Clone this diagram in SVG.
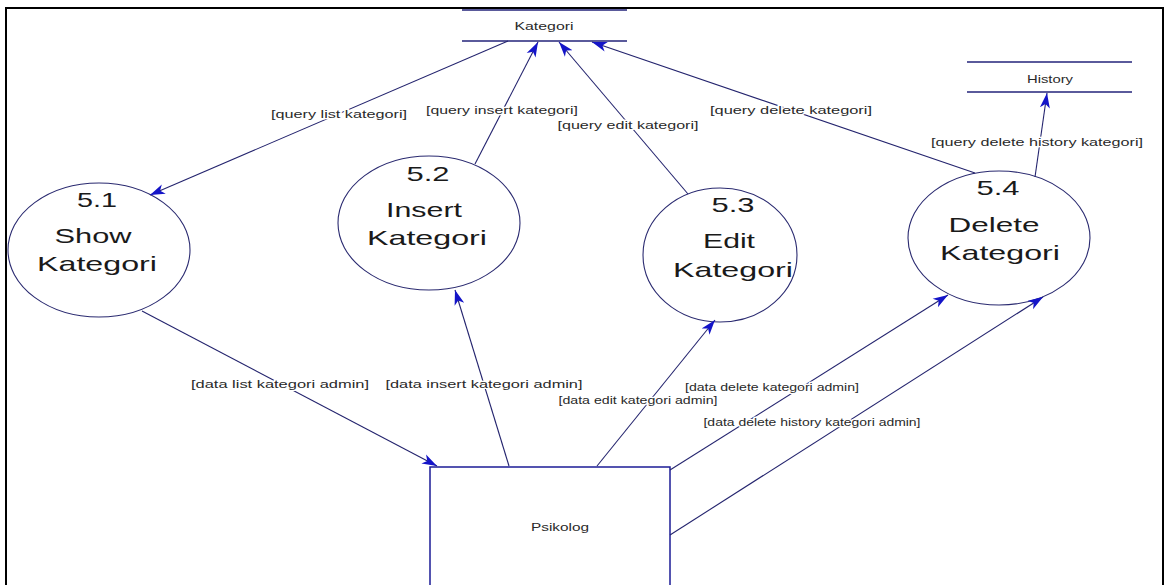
<svg xmlns="http://www.w3.org/2000/svg" width="1165" height="585" viewBox="0 0 1165 585">
  <style>
    .frame { fill: none; stroke: #000; stroke-width: 2; }
    .store { stroke: #23237a; stroke-width: 1.5; }
    .proc { fill: #fff; stroke: #2a2a70; stroke-width: 1.1; }
    .ent { fill: #fff; stroke: #1c1c96; stroke-width: 1.5; }
    .flow { fill: none; stroke: #24246e; stroke-width: 1.1; marker-end: url(#arr); }
    .big { font-family: "Liberation Sans", Arial, sans-serif; font-size: 21px; fill: #1a1a1a; text-anchor: middle; }
    .small { font-family: "Liberation Sans", Arial, sans-serif; font-size: 11px; fill: #2a2a2a; text-anchor: middle; }
    .lbl { font-family: "Liberation Sans", Arial, sans-serif; font-size: 11px; fill: #2a2a2a; text-anchor: middle; paint-order: stroke; stroke: #fff; stroke-width: 2.5; }
  </style>
  <defs>
    <marker id="arr" markerUnits="userSpaceOnUse" markerWidth="16" markerHeight="11" viewBox="0 0 16 11" refX="15" refY="5.5" orient="auto">
      <path d="M0,0.5 L15,5.5 L0,10.5 L4,5.5 z" fill="#1414c8"/>
    </marker>
  </defs>

  <rect width="1165" height="585" fill="#fff"/>
  <rect class="frame" x="6" y="8" width="1157" height="590"/>

  <!-- data stores -->
  <g id="store-kategori">
    <line class="store" x1="462" y1="10" x2="627" y2="10"/>
    <line class="store" x1="462" y1="41" x2="627" y2="41"/>
    <text class="small" x="544" y="30" textLength="59" lengthAdjust="spacingAndGlyphs">Kategori</text>
  </g>
  <g id="store-history">
    <line class="store" x1="967" y1="62" x2="1132" y2="62"/>
    <line class="store" x1="967" y1="92" x2="1132" y2="92"/>
    <text class="small" x="1050" y="83" textLength="46" lengthAdjust="spacingAndGlyphs">History</text>
  </g>

  <!-- processes -->
  <g id="proc-5-1">
    <ellipse class="proc" cx="99" cy="250" rx="91" ry="67"/>
    <text class="big" x="97" y="207" textLength="40" lengthAdjust="spacingAndGlyphs">5.1</text>
    <text class="big" x="93" y="243" textLength="77" lengthAdjust="spacingAndGlyphs">Show</text>
    <text class="big" x="97" y="271" textLength="120" lengthAdjust="spacingAndGlyphs">Kategori</text>
  </g>
  <g id="proc-5-2">
    <ellipse class="proc" cx="429" cy="223" rx="91" ry="67"/>
    <text class="big" x="428" y="181" textLength="43" lengthAdjust="spacingAndGlyphs">5.2</text>
    <text class="big" x="424" y="217" textLength="76" lengthAdjust="spacingAndGlyphs">Insert</text>
    <text class="big" x="427" y="245" textLength="120" lengthAdjust="spacingAndGlyphs">Kategori</text>
  </g>
  <g id="proc-5-3">
    <ellipse class="proc" cx="720" cy="255" rx="77" ry="67"/>
    <text class="big" x="733" y="212" textLength="43" lengthAdjust="spacingAndGlyphs">5.3</text>
    <text class="big" x="729" y="248" textLength="52" lengthAdjust="spacingAndGlyphs">Edit</text>
    <text class="big" x="733" y="277" textLength="120" lengthAdjust="spacingAndGlyphs">Kategori</text>
  </g>
  <g id="proc-5-4">
    <ellipse class="proc" cx="999" cy="238" rx="91" ry="67"/>
    <text class="big" x="998" y="195" textLength="43" lengthAdjust="spacingAndGlyphs">5.4</text>
    <text class="big" x="994" y="232" textLength="91" lengthAdjust="spacingAndGlyphs">Delete</text>
    <text class="big" x="1000" y="260" textLength="120" lengthAdjust="spacingAndGlyphs">Kategori</text>
  </g>

  <!-- external entity -->
  <g id="ent-psikolog">
    <rect class="ent" x="430" y="467" width="240" height="130"/>
    <text class="small" x="560" y="531" textLength="58" lengthAdjust="spacingAndGlyphs">Psikolog</text>
  </g>

  <!-- data flows -->
  <g id="flows">
    <path class="flow" d="M508,41 L150,195"/>
    <path class="flow" d="M475,164 L538,42"/>
    <path class="flow" d="M688,194 L559,42"/>
    <path class="flow" d="M975,173 L592,42"/>
    <path class="flow" d="M1035,177 L1047,93"/>
    <path class="flow" d="M142,311 L437,466"/>
    <path class="flow" d="M509,466 L455,290"/>
    <path class="flow" d="M597,466 L715,320"/>
    <path class="flow" d="M670,470 L948,295"/>
    <path class="flow" d="M670,535 L1043,297"/>

    <text class="lbl" x="339" y="118" textLength="136" lengthAdjust="spacingAndGlyphs">[query list kategori]</text>
    <text class="lbl" x="502" y="114" textLength="152" lengthAdjust="spacingAndGlyphs">[query insert kategori]</text>
    <text class="lbl" x="628" y="129" textLength="141" lengthAdjust="spacingAndGlyphs">[query edit kategori]</text>
    <text class="lbl" x="791" y="114" textLength="162" lengthAdjust="spacingAndGlyphs">[query delete kategori]</text>
    <text class="lbl" x="1037" y="146" textLength="212" lengthAdjust="spacingAndGlyphs">[query delete history kategori]</text>
    <text class="lbl" x="280" y="388" textLength="178" lengthAdjust="spacingAndGlyphs">[data list kategori admin]</text>
    <text class="lbl" x="484" y="388" textLength="197" lengthAdjust="spacingAndGlyphs">[data insert kategori admin]</text>
    <text class="lbl" x="638" y="404" textLength="159" lengthAdjust="spacingAndGlyphs">[data edit kategori admin]</text>
    <text class="lbl" x="772" y="391" textLength="174" lengthAdjust="spacingAndGlyphs">[data delete kategori admin]</text>
    <text class="lbl" x="812" y="426" textLength="217" lengthAdjust="spacingAndGlyphs">[data delete history kategori admin]</text>
  </g>
</svg>
